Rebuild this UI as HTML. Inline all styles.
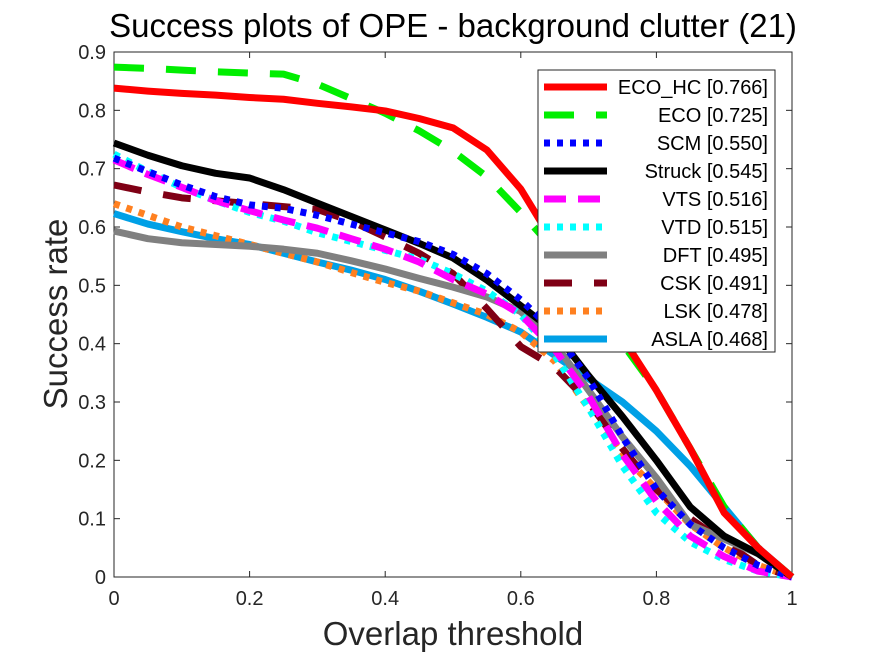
<!DOCTYPE html>
<html><head><meta charset="utf-8"><style>
body{margin:0;background:#fff;}
svg text{font-family:"Liberation Sans",Arial,sans-serif;}
</style></head><body>
<svg id="chart" width="875" height="656" xmlns="http://www.w3.org/2000/svg">
<rect width="875" height="656" fill="#fff"/>
<g id="plot"></g>
<text x="453" y="37" font-size="33" text-anchor="middle" fill="#000">Success plots of OPE - background clutter (21)</text>
<text x="453" y="645" font-size="33" text-anchor="middle" fill="#262626">Overlap threshold</text>
<text x="0" y="0" font-size="33" text-anchor="middle" fill="#262626" transform="translate(67,314) rotate(-90)">Success rate</text>
</svg>
<script>
const xs=[0,0.05,0.1,0.15,0.2,0.25,0.3,0.35,0.4,0.45,0.5,0.55,0.6,0.65,0.7,0.75,0.8,0.85,0.9,0.95,1];
const xTicks=[0,0.2,0.4,0.6,0.8,1];
const xTickLabels=["0","0.2","0.4","0.6","0.8","1"];
const yTicks=[0,0.1,0.2,0.3,0.4,0.5,0.6,0.7,0.8,0.9];
const yTickLabels=["0","0.1","0.2","0.3","0.4","0.5","0.6","0.7","0.8","0.9"];
const names=["ECO_HC [0.766]","ECO [0.725]","SCM [0.550]","Struck [0.545]","VTS [0.516]","VTD [0.515]","DFT [0.495]","CSK [0.491]","LSK [0.478]","ASLA [0.468]"];
const ecoHc=[0.838,0.833,0.829,0.826,0.822,0.819,0.812,0.806,0.799,0.786,0.77,0.732,0.665,0.57,0.49,0.41,0.32,0.22,0.11,0.05,0];
const eco=[0.874,0.872,0.869,0.866,0.864,0.862,0.845,0.82,0.795,0.765,0.73,0.686,0.625,0.56,0.48,0.40,0.32,0.22,0.12,0.05,0];
const scm=[0.718,0.695,0.672,0.652,0.638,0.632,0.62,0.605,0.59,0.575,0.553,0.52,0.475,0.42,0.34,0.24,0.15,0.09,0.05,0.02,0];
const struck=[0.744,0.723,0.705,0.692,0.684,0.664,0.641,0.618,0.595,0.572,0.547,0.509,0.465,0.42,0.345,0.275,0.2,0.12,0.07,0.04,0];
const vts=[0.715,0.69,0.668,0.645,0.628,0.612,0.598,0.58,0.562,0.54,0.51,0.485,0.45,0.39,0.31,0.21,0.13,0.07,0.035,0.01,0];
const vtd=[0.725,0.695,0.668,0.645,0.625,0.61,0.59,0.575,0.56,0.545,0.52,0.49,0.45,0.38,0.29,0.19,0.11,0.06,0.03,0.01,0];
const dft=[0.593,0.58,0.573,0.57,0.567,0.562,0.555,0.542,0.528,0.512,0.497,0.48,0.455,0.4,0.32,0.24,0.17,0.09,0.065,0.04,0];
const csk=[0.672,0.66,0.65,0.645,0.64,0.635,0.63,0.61,0.583,0.555,0.52,0.46,0.395,0.36,0.3,0.22,0.15,0.1,0.06,0.02,0];
const lsk=[0.64,0.62,0.6,0.585,0.57,0.555,0.54,0.522,0.505,0.49,0.47,0.45,0.42,0.37,0.29,0.21,0.15,0.09,0.05,0.02,0];
const asla=[0.623,0.605,0.592,0.58,0.57,0.555,0.54,0.526,0.51,0.49,0.468,0.445,0.42,0.38,0.34,0.3,0.25,0.19,0.12,0.05,0];

const L=114,R=792,T=52,B=577;
function sx(v){return L+v*(R-L);}
function sy(v){return B-v/0.9*(B-T);}
const NS="http://www.w3.org/2000/svg";
const g=document.getElementById('plot');
function mk(t,a,p){const e=document.createElementNS(NS,t);for(const k in a)e.setAttribute(k,a[k]);(p||g).appendChild(e);return e;}
const styles=[
 {c:"#ff0000",d:""},{c:"#00ee00",d:"30,22"},{c:"#0000ff",d:"6,7"},{c:"#000000",d:""},
 {c:"#ff00ff",d:"22,12"},{c:"#00ffff",d:"6,7"},{c:"#808080",d:""},{c:"#7f0015",d:"28,22"},
 {c:"#ff8020",d:"6,7"},{c:"#00a0e6",d:""}];
const series=[ecoHc,eco,scm,struck,vts,vtd,dft,csk,lsk,asla];
const keys=["eco-hc","eco","scm","struck","vts","vtd","dft","csk","lsk","asla"];
const box=mk('rect',{x:L,y:T,width:R-L,height:B-T,fill:"none",stroke:"#262626","stroke-width":1});


xTicks.forEach((v,i)=>{
 const x=sx(v);
 mk('line',{x1:x,y1:B,x2:x,y2:B-6,stroke:"#262626"});
 mk('line',{x1:x,y1:T,x2:x,y2:T+6,stroke:"#262626"});
 const t=mk('text',{x:x,y:B+28,"font-size":20,"text-anchor":"middle",fill:"#262626"});
 t.textContent=xTickLabels[i];
 
 
});
yTicks.forEach((v,i)=>{
 const y=sy(v);
 mk('line',{x1:L,y1:y,x2:L+6,y2:y,stroke:"#262626"});
 mk('line',{x1:R,y1:y,x2:R-6,y2:y,stroke:"#262626"});
 const t=mk('text',{x:L-8,y:y+7,"font-size":20,"text-anchor":"end",fill:"#262626"});
 t.textContent=yTickLabels[i];
 
 
});
for(let s=series.length-1;s>=0;s--){
 const pts=series[s].map((v,i)=>sx(xs[i])+","+sy(v)).join(" ");
 const p=mk('polyline',{points:pts,fill:"none",stroke:styles[s].c,"stroke-width":7,"stroke-dasharray":styles[s].d||"none","stroke-linejoin":"round"});
 
 
}
const lg=mk('g',{});


mk('rect',{x:538,y:70,width:237,height:282,fill:"#fff",stroke:"#262626","stroke-width":1},lg);
names.forEach((n,i)=>{
 const y=87+i*28;
 const e=mk('g',{},lg);
 
 
 mk('line',{x1:544,y1:y,x2:607,y2:y,stroke:styles[i].c,"stroke-width":7,"stroke-dasharray":styles[i].d||"none"},e);
 const t=mk('text',{x:768,y:y+7,"font-size":20,"text-anchor":"end",fill:"#000"},e);
 t.textContent=n;
});
</script>
</body></html>
